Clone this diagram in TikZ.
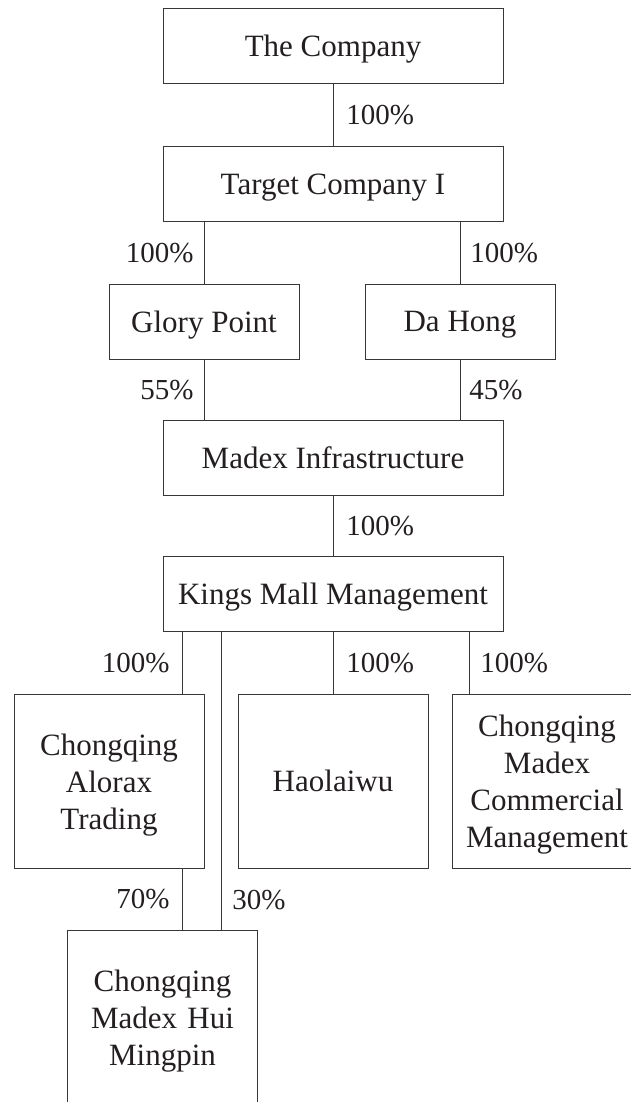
\documentclass[tikz,border=0pt]{standalone}
\usepackage{fontspec}
\setmainfont{Liberation Serif}
\definecolor{inkc}{RGB}{35,31,32}
\definecolor{linec}{RGB}{55,55,55}
\newcommand{\topstrut}{\rule{0pt}{29pt}}
\begin{document}
\begin{tikzpicture}[x=1pt,y=-1pt,
  orgbox/.style={draw=linec, line width=0.9pt, inner sep=0pt, text=inkc,
    align=center, font=\fontsize{31}{37}\selectfont},
  onebox/.style={orgbox, text depth=0pt},
  widebox/.style={onebox, minimum width=340pt, minimum height=75pt},
  midbox/.style={onebox, minimum width=190pt, minimum height=75pt},
  tallbox/.style={orgbox, minimum width=190pt, minimum height=174pt, text width=188pt},
  link/.style={draw=linec, line width=0.9pt},
  pct/.style={inner sep=0pt, text=inkc, font=\fontsize{29}{34}\selectfont}
]
\useasboundingbox (0,0) rectangle (630,1102);

\node[widebox] (company) at (333,45.5) {The Company};
\node[widebox] (target) at (333,184) {Target Company I};
\node[midbox] (glory) at (204,321.5) {Glory Point};
\node[midbox] (dahong) at (460,321.5) {Da Hong};
\node[widebox] (madex) at (333,458) {Madex Infrastructure};
\node[widebox] (kings) at (333,594) {Kings Mall Management};
\node[tallbox] (alorax) at (109,781) {\topstrut Chongqing\\Alorax\\Trading};
\node[tallbox, text depth=0pt] (haolaiwu) at (333,781) {Haolaiwu};
\node[tallbox] (commercial) at (547,781) {\topstrut Chongqing\\Madex\\Commercial\\Management};
\node[tallbox] (mingpin) at (162.5,1017) {\topstrut Chongqing\\Madex Hui\\Mingpin};

\coordinate (xa) at (182,0);
\coordinate (xm) at (221,0);
\coordinate (xc) at (469,0);

\draw[link] (company.south) -- (target.north) node[pct, midway, right=13pt] {100\%};
\draw[link] (target.south -| glory.north) -- (glory.north) node[pct, midway, left=10pt] {100\%};
\draw[link] (target.south -| dahong.north) -- (dahong.north) node[pct, midway, right=10pt] {100\%};
\draw[link] (glory.south) -- (madex.north -| glory.south) node[pct, midway, left=10pt] {55\%};
\draw[link] (dahong.south) -- (madex.north -| dahong.south) node[pct, midway, right=9pt] {45\%};
\draw[link] (madex.south) -- (kings.north) node[pct, midway, right=13pt] {100\%};
\draw[link] (kings.south -| xa) -- (alorax.north -| xa) node[pct, midway, left=12pt] {100\%};
\draw[link] (kings.south -| xm) -- (mingpin.north -| xm) node[pct, pos=0.902, right=11pt] {30\%};
\draw[link] (kings.south) -- (haolaiwu.north) node[pct, midway, right=13pt] {100\%};
\draw[link] (kings.south -| xc) -- (commercial.north -| xc) node[pct, midway, right=11pt] {100\%};
\draw[link] (alorax.south -| xa) -- (mingpin.north -| xa) node[pct, midway, left=12pt] {70\%};
\end{tikzpicture}
\end{document}
